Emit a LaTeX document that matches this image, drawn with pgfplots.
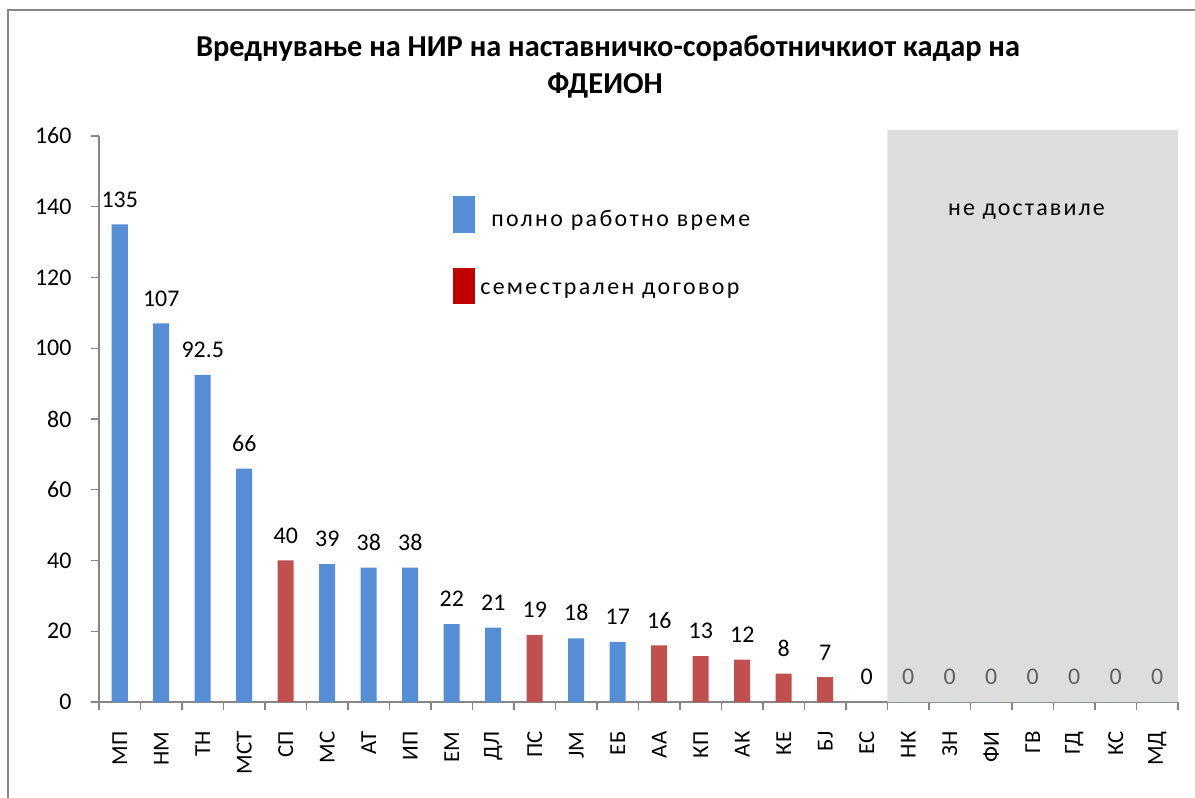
\documentclass[border=0pt]{standalone}
\usepackage{pgfplots}
\pgfplotsset{compat=1.18}
\usepackage{fontspec}
\setmainfont{Carlito}
\newfontfamily\spacedfont[LetterSpace=10]{Carlito}
\newfontfamily\notefont[LetterSpace=9]{Carlito}
\definecolor{barblue}{HTML}{558ED5}
\definecolor{barred}{HTML}{C0504D}
\definecolor{legred}{HTML}{C00000}
\definecolor{shade}{HTML}{DDDDDD}
\definecolor{axisgray}{HTML}{868686}
\definecolor{zerogray}{HTML}{606060}
\newcommand{\lblfont}{\fontsize{24}{28}\selectfont}
\newcommand{\catfont}{\fontsize{23}{27}\selectfont}
\newcommand{\legfont}{\spacedfont\fontsize{24}{28}\selectfont}
\begin{document}
\begin{tikzpicture}
\useasboundingbox (0,0) rectangle (1195bp,798bp);
\draw[axisgray, line width=1.5bp] (8bp,-10bp) -- (8bp,788bp) -- (1210bp,788bp);
\node[font=\fontsize{30.5}{34}\selectfont\bfseries] at (608bp,750bp) {Вреднување на НИР на наставничко-соработничкиот кадар на};
\node[font=\fontsize{30.5}{34}\selectfont\bfseries] at (605bp,712bp) {ФДЕИОН};
\begin{axis}[
  at={(99bp,96bp)}, anchor=south west,
  scale only axis, width=1079bp, height=566bp,
  xmin=-0.5, xmax=25.5, ymin=0, ymax=160,
  ytick={0,20,...,160},
  xtick={0,...,25},
  xticklabels={МП,НМ,ТН,МСТ,СП,МС,АТ,ИП,ЕМ,ДЛ,ПС,ЈМ,ЕБ,АА,КП,АК,КЕ,БЈ,ЕС,НК,ЗН,ФИ,ГВ,ГД,КС,МД},
  minor xtick={-0.5,0.5,...,25.5},
  axis lines*=left,
  axis line style={axisgray, line width=1.2bp},
  tick align=outside,
  major tick length=8bp, minor tick length=8bp,
  major x tick style={draw=none},
  minor x tick style={axisgray, line width=1.2bp},
  y tick style={axisgray, line width=1.2bp},
  /pgf/number format/assume math mode=true,
  yticklabel style={font=\lblfont},
  xticklabel style={font=\catfont, rotate=90, anchor=east},
  xticklabel shift=18bp,
  yticklabel shift=16bp,
  clip=false,
  point meta=explicit symbolic,
  legend style={draw=none, fill=none, at={(0.325,0.8975)}, anchor=north west, font=\legfont, row sep=35bp, legend cell align=left},
]
\addlegendimage{legend image code/.code={\fill[barblue] (0bp,-13bp) rectangle (21bp,23bp);}}
\addlegendentry{\hspace{15bp}полно работно време}
\addlegendimage{legend image code/.code={\fill[legred] (0bp,-13bp) rectangle (21bp,22bp);}}
\addlegendentry{\hspace{4bp}семестрален договор}

\addplot[fill=shade, draw=none, forget plot] coordinates {(18.5,0) (18.5,161.7) (25.5,161.7) (25.5,0)} \closedcycle;
\node[font=\notefont\fontsize{24}{28}\selectfont] at (axis cs:21.85,138.5) {не доставиле};

\addplot[ybar, bar width=16bp, bar shift=0pt, fill=barblue, draw=none, forget plot,
  nodes near coords, every node near coord/.append style={font=\lblfont, text=black, inner sep=0pt, yshift=17bp}]
  coordinates {(0,135)[135] (1,107)[107] (2,92.5)[92.5] (3,66)[66] (5,39)[39] (6,38)[38] (7,38)[38] (8,22)[22] (9,21)[21] (11,18)[18] (12,17)[17]};
\addplot[ybar, bar width=16bp, bar shift=0pt, fill=barred, draw=none, forget plot,
  nodes near coords, every node near coord/.append style={font=\lblfont, text=black, inner sep=0pt, yshift=17bp}]
  coordinates {(4,40)[40] (10,19)[19] (13,16)[16] (14,13)[13] (15,12)[12] (16,8)[8] (17,7)[7]};
\addplot[ybar, bar width=16bp, bar shift=0pt, fill=barblue, draw=none, forget plot,
  nodes near coords, every node near coord/.append style={font=\lblfont, text=black, inner sep=0pt, yshift=17bp}]
  coordinates {(18,0)[0]};
\addplot[ybar, bar width=16bp, bar shift=0pt, fill=barblue, draw=none, forget plot,
  nodes near coords, every node near coord/.append style={font=\lblfont, text=zerogray, inner sep=0pt, yshift=17bp}]
  coordinates {(19,0)[0] (20,0)[0] (21,0)[0] (22,0)[0] (23,0)[0] (24,0)[0] (25,0)[0]};
\end{axis}
\end{tikzpicture}
\end{document}
